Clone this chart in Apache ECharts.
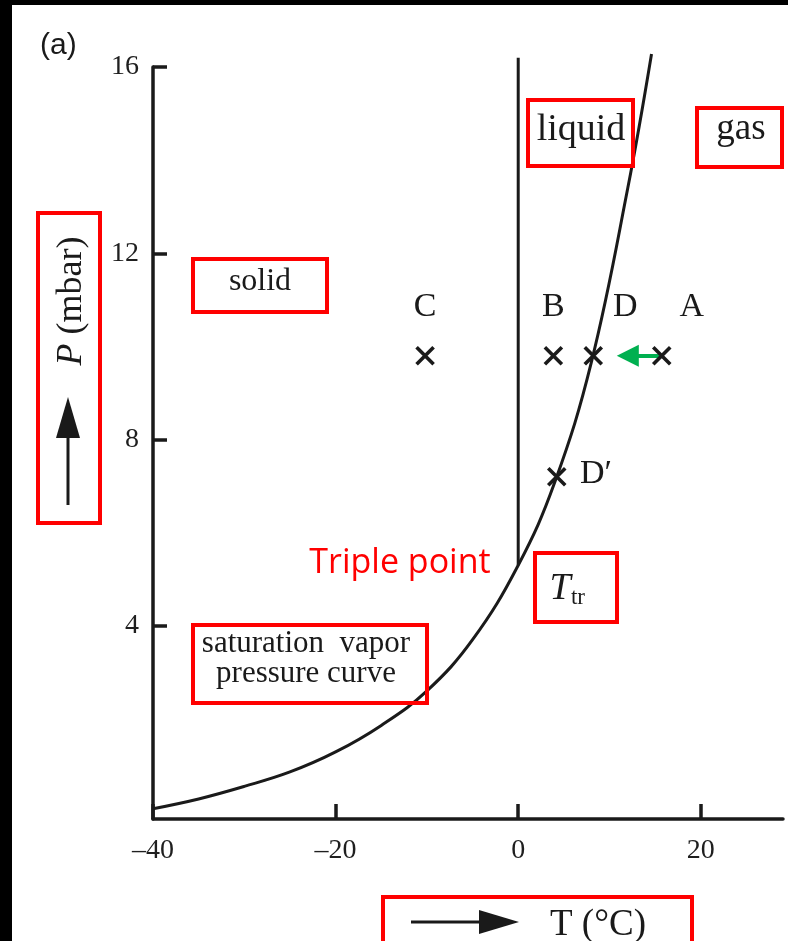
<!DOCTYPE html>
<html><head><meta charset="utf-8">
<script src="https://cdn.jsdelivr.net/npm/echarts@6/dist/echarts.min.js"></script>
<style>html,body{margin:0;padding:0;background:#fff}#c{width:788px;height:941px}</style>
</head><body><div id="c"></div>
<script>
// saturation vapour pressure curve (T in °C, P in mbar)
const curveT = [-40, -35, -30, -25, -20, -15, -10, -5, 0, 4, 8, 12, 14.6];
const curveP = [0.07, 0.28, 0.55, 0.86, 1.29, 1.86, 2.6, 3.7, 5.3, 7.08, 9.65, 13.4, 16.28];
// melting line at T = 0
const meltT = [0, 0];
const meltP = [5.3, 16.2];
// marked states
const pointNames = ['C', 'B', 'D', 'A', 'D\u2032'];
const pointT = [-10.2, 3.85, 8.22, 15.72, 4.22];
const pointP = [9.8, 9.8, 9.8, 9.8, 7.2];
// green arrow A -> D
const arrowT = [15.5, 12.0];
const arrowP = [9.8, 9.8];
// ticks
const xTicks = [-40, -20, 0, 20];
const yTicks = [4, 8, 12, 16];

const INK = '#1a1a1a';
const RED = '#ff0000';
const SERIF = '"Liberation Serif", "Times New Roman", serif';

const labelStyle = {
  'C':  {position: 'top', distance: 21, offset: [0, 0]},
  'B':  {position: 'top', distance: 21, offset: [0, 0]},
  'D':  {position: 'top', distance: 21, offset: [32, 0]},
  'A':  {position: 'top', distance: 21, offset: [30, 0]},
  'D\u2032': {position: 'right', distance: 13, offset: [0, -3]}
};

const pointData = pointNames.map((n, i) => ({
  name: n,
  value: [pointT[i], pointP[i]],
  label: labelStyle[n]
}));

const chart = echarts.init(document.getElementById('c'), null, {renderer: 'canvas'});

function redBox(x, y, w, h) {
  return {type: 'rect', shape: {x: x, y: y, width: w, height: h},
    style: {fill: 'none', stroke: RED, lineWidth: 4}, z: 100};
}
function txt(text, x, y, font, extra) {
  return Object.assign({type: 'text', x: x, y: y, z: 101,
    style: Object.assign({text: text, font: font, fill: INK, align: 'center', verticalAlign: 'middle'}, extra || {})});
}

const option = {
  animation: false,
  backgroundColor: '#fff',
  grid: {left: 153, right: 5, top: 67, bottom: 122},
  xAxis: {
    type: 'value', min: -40, max: 29,
    axisLine: {show: true, onZero: false, lineStyle: {color: INK, width: 3.5}},
    axisTick: {show: true, inside: true, length: 15, customValues: xTicks, lineStyle: {color: INK, width: 3.5}},
    axisLabel: {customValues: xTicks, margin: 18, fontFamily: SERIF, fontSize: 28, color: '#1f1f1f',
      formatter: v => String(v).replace('-', '\u2013')},
    splitLine: {show: false}
  },
  yAxis: {
    type: 'value', min: -0.15, max: 16,
    axisLine: {show: true, onZero: false, lineStyle: {color: INK, width: 3.5}},
    axisTick: {show: true, inside: true, length: 14, customValues: yTicks, lineStyle: {color: INK, width: 3.5}},
    axisLabel: {customValues: yTicks, margin: 14, fontFamily: SERIF, fontSize: 28, color: '#1f1f1f',
      padding: [8, 0, 0, 0]},
    splitLine: {show: false}
  },
  series: [
    {
      type: 'line', name: 'saturation', smooth: 0.4, clip: false, symbol: 'none',
      data: curveT.map((t, i) => [t, curveP[i]]),
      lineStyle: {color: INK, width: 3}
    },
    {
      type: 'line', name: 'melting', clip: false, symbol: 'none',
      data: meltT.map((t, i) => [t, meltP[i]]),
      lineStyle: {color: INK, width: 3}
    },
    {
      type: 'lines', coordinateSystem: 'cartesian2d', z: 5,
      symbol: ['none', 'triangle'], symbolSize: [22, 22],
      lineStyle: {color: '#00b050', width: 4, opacity: 1},
      data: [{coords: arrowT.map((t, i) => [t, arrowP[i]])}]
    },
    {
      type: 'scatter', name: 'states', z: 10,
      symbol: 'path://M0,0L10,10M10,0L0,10', symbolSize: 17,
      itemStyle: {color: 'rgba(0,0,0,0)', borderColor: INK, borderWidth: 3.6, opacity: 1},
      label: {show: true, formatter: '{b}', fontFamily: SERIF, fontSize: 34, color: INK},
      data: pointData
    }
  ],
  graphic: [
    // black frame edges
    {type: 'rect', shape: {x: 0, y: 0, width: 12, height: 941}, style: {fill: '#000'}, z: 200},
    {type: 'rect', shape: {x: 0, y: 0, width: 788, height: 5}, style: {fill: '#000'}, z: 200},
    // (a)
    {type: 'text', x: 40, y: 46, z: 101, style: {text: '(a)', font: '30px "Liberation Sans", Arial, sans-serif', fill: INK, align: 'left', verticalAlign: 'middle'}},
    // region labels
    redBox(528, 100, 105, 66), txt('liquid', 581, 130, '38px ' + SERIF),
    redBox(697, 108, 85, 59), txt('gas', 741, 129, '37px ' + SERIF),
    redBox(193, 259, 134, 53), txt('solid', 260, 282, '32px ' + SERIF),
    redBox(193, 625, 234, 78), txt('saturation  vapor\npressure curve', 306, 659, '31px ' + SERIF, {lineHeight: 30}),
    redBox(535, 553, 82, 69),
    txt('T', 560, 589, 'italic 38px ' + SERIF),
    txt('tr', 578, 598, '23px ' + SERIF),
    txt('Triple point', 400, 563, '34px "Open Sans", sans-serif', {fill: RED}),
    // y axis title with arrow
    redBox(38, 213, 62, 310),
    {type: 'text', x: 72, y: 301, rotation: Math.PI / 2, z: 101,
      style: {text: '{i|P} (mbar)', font: '36px ' + SERIF, fill: INK, align: 'center', verticalAlign: 'middle',
        rich: {i: {fontStyle: 'italic', fontFamily: SERIF, fontSize: 36}}}},
    {type: 'line', shape: {x1: 68, y1: 505, x2: 68, y2: 432}, style: {stroke: INK, lineWidth: 3}, z: 101},
    {type: 'polygon', shape: {points: [[68, 397], [56, 438], [80, 438]]}, style: {fill: INK}, z: 101},
    // x axis title with arrow
    redBox(383, 897, 309, 60),
    {type: 'line', shape: {x1: 411, y1: 922, x2: 485, y2: 922}, style: {stroke: INK, lineWidth: 3}, z: 101},
    {type: 'polygon', shape: {points: [[519, 922], [479, 910], [479, 934]]}, style: {fill: INK}, z: 101},
    txt('T (\u00b0C)', 598, 925, '37px ' + SERIF)
  ]
};
chart.setOption(option);
</script>
</body></html>
